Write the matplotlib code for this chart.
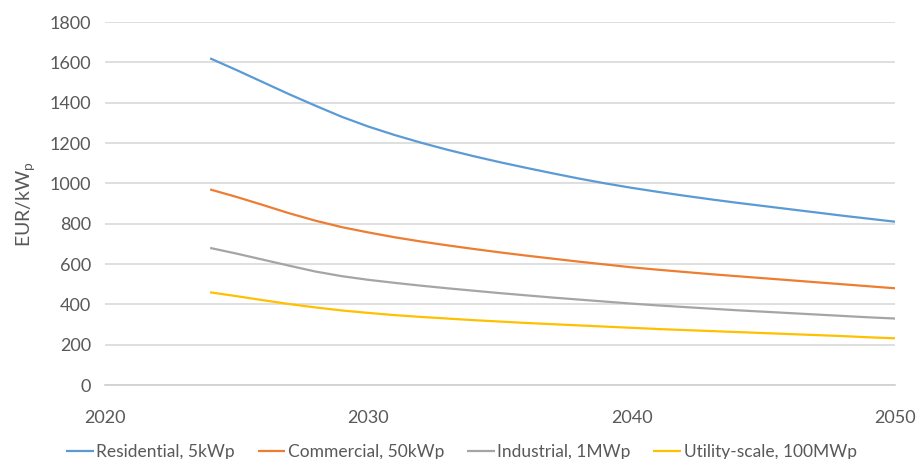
import matplotlib.pyplot as plt

years = list(range(2024, 2051))

residential = [1620, 1562, 1502, 1442, 1385, 1330, 1282, 1240, 1202, 1167, 1135, 1105, 1077, 1050,
               1024, 1000, 978, 958, 939, 921, 904, 888, 872, 856, 840, 825, 810]
commercial = [970, 933, 893, 852, 815, 783, 757, 733, 712, 693, 675, 658, 642, 627,
              612, 598, 584, 572, 561, 550, 540, 530, 520, 510, 500, 490, 480]
industrial = [680, 652, 622, 592, 563, 540, 522, 507, 493, 480, 468, 456, 445, 434,
              424, 414, 404, 395, 387, 379, 371, 364, 357, 350, 343, 336, 330]
utility = [460, 441, 421, 402, 385, 370, 358, 347, 338, 330, 322, 315, 308, 302,
           296, 290, 284, 278, 273, 268, 263, 258, 253, 248, 243, 237, 232]

labels = ['Residential, 5kWp', 'Commercial, 50kWp', 'Industrial, 1MWp', 'Utility-scale, 100MWp']
colors = ['#5B9BD5', '#ED7D31', '#A5A5A5', '#FFC000']
x_ticks = [2020, 2030, 2040, 2050]
y_ticks = list(range(0, 1801, 200))

plt.rcParams['font.family'] = ['Lato', 'DejaVu Sans']
txt = '#595959'

fig = plt.figure(figsize=(9.19, 4.59), dpi=100)
ax = fig.add_axes([0.114, 0.161, 0.86, 0.791])

for series, lab, c in zip([residential, commercial, industrial, utility], labels, colors):
    ax.plot(years, series, color=c, lw=1.6, label=lab, solid_capstyle='butt', solid_joinstyle='round')

ax.set_xlim(2020, 2050)
ax.set_ylim(0, 1800)
ax.set_xticks(x_ticks)
ax.set_yticks(y_ticks)
ax.grid(axis='y', color='#d9d9d9', lw=1.2)
ax.set_axisbelow(True)
for s in ['top', 'right', 'left']:
    ax.spines[s].set_visible(False)
ax.spines['bottom'].set_color('#d0d0d0')
ax.spines['bottom'].set_linewidth(1.2)
ax.tick_params(length=0, labelsize=13, labelcolor=txt)
ax.tick_params(axis='x', pad=18)
ax.tick_params(axis='y', pad=10)
ax.set_ylabel('EUR/kW$_\\mathregular{p}$', fontsize=14, color=txt, labelpad=8)

fig.legend(loc='center', bbox_to_anchor=(0.502, 0.015), ncol=4, frameon=False,
           fontsize=12.5, labelcolor=txt, handlelength=1.6, handletextpad=0.15,
           columnspacing=1.3)

fig.savefig('out.png', dpi=100)
